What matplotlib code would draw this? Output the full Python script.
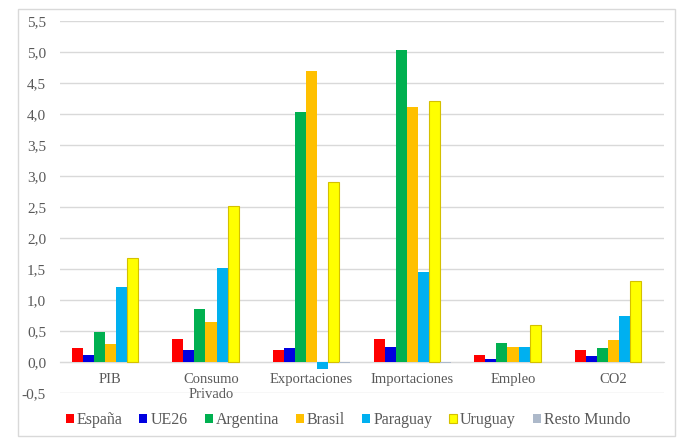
import matplotlib.pyplot as plt
from matplotlib.patches import Rectangle
import numpy as np

plt.rcParams['font.family'] = ['Liberation Serif', 'DejaVu Serif']

categories = ['PIB', 'Consumo\nPrivado', 'Exportaciones', 'Importaciones', 'Empleo', 'CO2']
series = ['España', 'UE26', 'Argentina', 'Brasil', 'Paraguay', 'Uruguay', 'Resto Mundo']

espana = [0.23, 0.37, 0.20, 0.37, 0.11, 0.20]
ue26 = [0.12, 0.19, 0.23, 0.24, 0.05, 0.09]
argentina = [0.48, 0.86, 4.04, 5.04, 0.31, 0.23]
brasil = [0.29, 0.65, 4.69, 4.11, 0.24, 0.35]
paraguay = [1.21, 1.51, -0.11, 1.45, 0.25, 0.75]
uruguay = [1.67, 2.52, 2.91, 4.21, 0.59, 1.30]
resto = [0.0, 0.0, -0.02, -0.01, 0.0, 0.0]

values = [espana, ue26, argentina, brasil, paraguay, uruguay, resto]
colors = ['#FF0000', '#0000E0', '#00B050', '#FFC000', '#00B0F0', '#FFFF00', '#ADB9CA']
edges = [None, None, None, None, None, '#D4C000', None]

yticks = np.arange(-0.5, 5.51, 0.5)

fig = plt.figure(figsize=(6.77, 4.42), dpi=100)
ax = fig.add_axes([60 / 677, 1 - 393 / 442, 604 / 677, 372 / 442])

x = np.arange(len(categories))
width = 0.11
for i, (name, vals) in enumerate(zip(series, values)):
    kw = {}
    if edges[i]:
        kw = dict(edgecolor=edges[i], linewidth=0.8)
    ax.bar(x + (i - 3) * width, vals, width, color=colors[i], label=name, zorder=3, **kw)

ax.set_xlim(-0.5, len(categories) - 0.5)
ax.set_ylim(-0.5, 5.5)
ax.set_yticks(yticks)
ax.set_yticklabels([f'{v:.1f}'.replace('.', ',') for v in yticks])
ax.yaxis.grid(True, color='#D9D9D9', linewidth=1, zorder=0)

ax.set_xticks(x)
ax.set_xticklabels(categories, linespacing=1.1)
ax.spines['bottom'].set_position(('data', 0))
ax.spines['bottom'].set_color('#D9D9D9')
for s in ['top', 'right', 'left']:
    ax.spines[s].set_visible(False)
ax.tick_params(axis='both', length=0, labelsize=10.5, colors='#595959')
ax.tick_params(axis='x', pad=8)
ax.tick_params(axis='y', pad=10, labelsize=11)

leg = fig.legend(loc='center', bbox_to_anchor=(348 / 677, 1 - 420 / 442), ncol=7,
                 frameon=False, fontsize=11.5, handlelength=0.5, handleheight=0.5,
                 handletextpad=0.2, columnspacing=1.05)
for t in leg.get_texts():
    t.set_color('#595959')

fig.patches.append(Rectangle((18 / 677, 1 - 436 / 442), 657 / 677, 427 / 442,
                             transform=fig.transFigure, fill=False,
                             edgecolor='#D9D9D9', linewidth=1))

fig.savefig('out.png', dpi=100)
